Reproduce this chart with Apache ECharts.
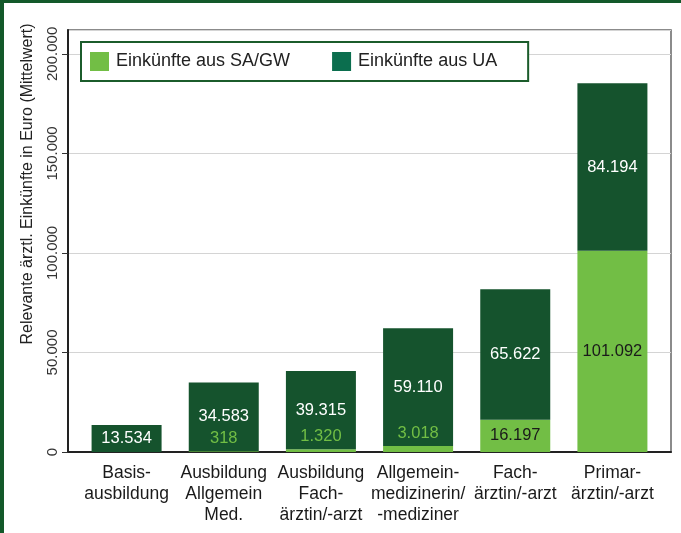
<!DOCTYPE html>
<html>
<head>
<meta charset="utf-8">
<script src="https://cdn.jsdelivr.net/npm/echarts@6/dist/echarts.min.js"></script>
<style>
    body { margin: 0; background: #fff; }
    #chart { position: absolute; left: 0; top: 0; width: 681px; height: 533px; }
    #frame {
        position: absolute; left: 0; top: 0; width: 681px; height: 533px;
        box-sizing: border-box; border-top: 3px solid #13592a; border-left: 4px solid #13592a;
        pointer-events: none;
    }
</style>
</head>
<body>
<div id="chart"></div>
<div id="frame"></div>
<script>
// Daten
var categories = [
    'Basis-\nausbildung',
    'Ausbildung\nAllgemein\nMed.',
    'Ausbildung\nFach-\närztin/-arzt',
    'Allgemein-\nmedizinerin/\n-mediziner',
    'Fach-\närztin/-arzt',
    'Primar-\närztin/-arzt'
]
var saValues = [0, 318, 1320, 3018, 16197, 101092]
var uaValues = [13534, 34583, 39315, 59110, 65622, 84194]
var yTicks = [0, 50000, 100000, 150000, 200000]

var lightGreen = '#72be45'
var darkGreen = '#15532d'
var font = 'Liberation Sans, Arial, sans-serif'

function fmt(v) {
    // Tausenderpunkt
    return String(v).replace(/\B(?=(\d{3})+(?!\d))/g, '.')
}

(function () {
    var myChart = echarts.init(document.getElementById('chart'))

    var yMax = 212000

    // SA/GW: kleine Werte über dem Balken, grosse im Balken
    var saData = saValues.map(function (v) {
        if (v === 0) return { value: v, label: { show: false } }
        if (v < 10000) {
            return { value: v, label: { show: true, position: 'top', distance: 4, color: lightGreen } }
        }
        return { value: v, label: { show: true, position: 'inside', color: '#1a1a1a' } }
    })

    var option = {
        animation: false,
        textStyle: { fontFamily: font },
        legend: {
            left: 81,
            top: 42,
            padding: [10, 31, 10, 9],
            borderColor: '#1b5c2b',
            borderWidth: 2,
            backgroundColor: '#fff',
            itemWidth: 19,
            itemHeight: 19,
            itemGap: 42,
            icon: 'rect',
            textStyle: { fontSize: 18, color: '#222', fontFamily: font, padding: [0, 0, 0, 2] },
            data: [
                { name: 'Einkünfte aus SA/GW', itemStyle: { color: lightGreen } },
                { name: 'Einkünfte aus UA', itemStyle: { color: '#0b6e4e' } }
            ]
        },
        grid: [
            // Balken
            { left: 78, right: 20, top: 30, bottom: 81 },
            // Rahmen und Achse
            { left: 68, right: 10, top: 30, bottom: 81, show: true, borderColor: '#666', borderWidth: 1.5 }
        ],
        xAxis: [{
            gridIndex: 0,
            type: 'category',
            data: categories,
            axisLine: { show: false },
            axisTick: { show: false },
            axisLabel: {
                color: '#1a1a1a',
                fontSize: 17.5,
                lineHeight: 21,
                margin: 11,
                interval: 0,
                fontFamily: font
            }
        }, {
            gridIndex: 1,
            type: 'category',
            data: categories,
            axisLine: { show: true, lineStyle: { color: '#222', width: 2 } },
            axisTick: { show: false },
            axisLabel: { show: false }
        }],
        yAxis: [{
            gridIndex: 0,
            type: 'value',
            min: 0,
            max: yMax,
            show: false,
            splitLine: { show: false }
        }, {
            gridIndex: 1,
            type: 'value',
            min: yTicks[0],
            max: yMax,
            interval: 50000,
            axisLine: { show: true, lineStyle: { color: '#222', width: 2 } },
            axisTick: { show: true, length: 6, lineStyle: { color: '#333' } },
            axisLabel: {
                rotate: 90,
                fontSize: 15,
                color: '#333',
                margin: 8,
                showMaxLabel: false,
                fontFamily: font,
                formatter: function (v) { return fmt(v) }
            },
            splitLine: { show: true, lineStyle: { color: '#d4d4d4', width: 1.2 } }
        }],
        graphic: [{
            type: 'text',
            x: 28,
            y: 184,
            rotation: Math.PI / 2,
            style: {
                text: 'Relevante ärztl. Einkünfte in Euro (Mittelwert)',
                fontSize: 16,
                fontFamily: font,
                fill: '#222',
                align: 'center',
                verticalAlign: 'middle'
            }
        }],
        series: [{
            name: 'Einkünfte aus SA/GW',
            type: 'bar',
            stack: 'total',
            xAxisIndex: 0,
            yAxisIndex: 0,
            barWidth: 70,
            itemStyle: { color: lightGreen },
            label: {
                fontSize: 16.5,
                fontFamily: font,
                formatter: function (p) { return fmt(p.value) }
            },
            data: saData
        }, {
            name: 'Einkünfte aus UA',
            type: 'bar',
            stack: 'total',
            xAxisIndex: 0,
            yAxisIndex: 0,
            barWidth: 70,
            itemStyle: { color: darkGreen },
            label: {
                show: true,
                position: 'inside',
                color: '#fff',
                fontSize: 16.5,
                fontFamily: font,
                formatter: function (p) { return fmt(p.value) }
            },
            data: uaValues
        }]
    }

    myChart.setOption(option)
})();
</script>
</body>
</html>
